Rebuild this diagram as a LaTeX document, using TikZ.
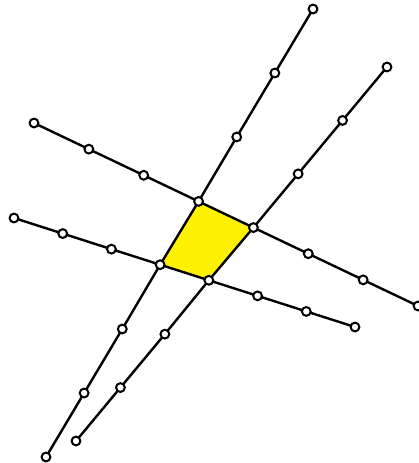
\documentclass[tikz,border=0pt]{standalone}
\usetikzlibrary{calc, backgrounds}

\begin{document}
\begin{tikzpicture}[x=0.75pt, y=-0.75pt,
  dot/.style={draw, circle, fill=white, line width=1.5pt, minimum size=6.6pt, inner sep=0pt},
  rail/.style={line width=1.8pt, line join=round}
]
\useasboundingbox (0,0) rectangle (418,463);

% The two flatter lines
\foreach \i in {0,...,7} {
  \node[dot] (a\i) at ($(34,123)!\i/7!(418,306)$) {};
  \node[dot] (b\i) at ($(14,218)!\i/7!(355,327)$) {};
}

% The two steep lines (they cross a and b at points 3 and 4)
\foreach \i in {0,1,2,5,6,7} {
  \node[dot] (c\i) at ($(313,9)!\i/7!(46,457)$) {};
  \node[dot] (d\i) at ($(387,67)!\i/7!(76,441)$) {};
}

\begin{pgfonlayer}{background}
  % Yellow cell
  \fill[yellow] (a3.center) -- (a4.center) -- (b4.center) -- (b3.center) -- cycle;
  % Lines
  \draw[rail] (a0.center) -- (a7.center);
  \draw[rail] (b0.center) -- (b7.center);
  \draw[rail] (c0.center) -- (c2.center) -- (a3.center) -- (b3.center) -- (c5.center) -- (c7.center);
  \draw[rail] (d0.center) -- (d2.center) -- (a4.center) -- (b4.center) -- (d5.center) -- (d7.center);
\end{pgfonlayer}

\end{tikzpicture}
\end{document}
